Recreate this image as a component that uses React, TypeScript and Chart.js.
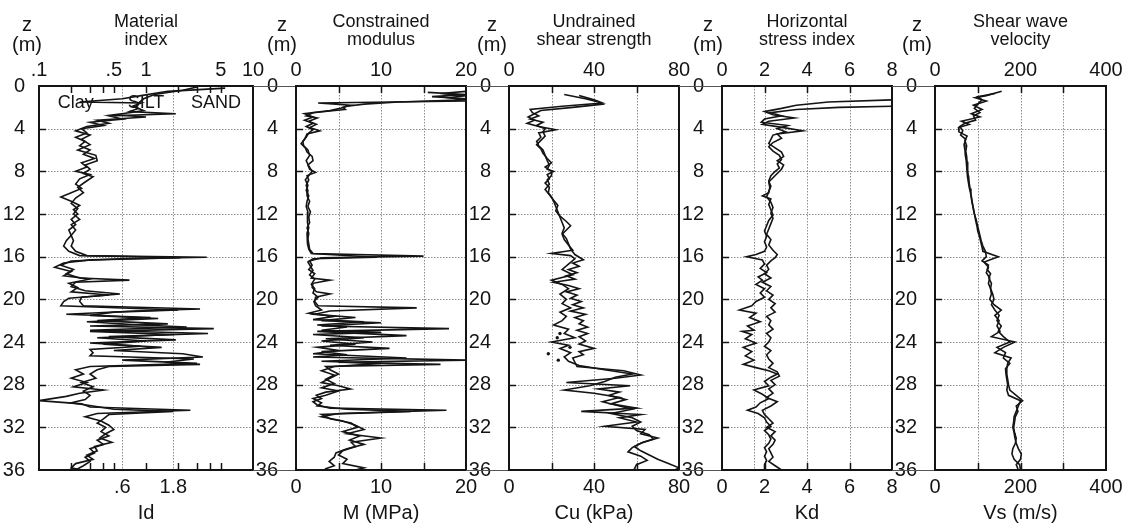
import { useEffect, useRef } from 'react';
import { Chart, registerables } from 'chart.js';
Chart.register(...registerables);

const FONT = '"Liberation Sans", Arial, Helvetica, sans-serif';
const INK = '#141414';

const DEPTH_TICKS = [0, 4, 8, 12, 16, 20, 24, 28, 32, 36];
const DEPTH_LABELS = ['0', '4', '8', '12', '16', '20', '24', '28', '32', '36'];

// ---------- Material index Id ----------
const ID_TOP_TICKS = [0.1, 0.5, 1, 5, 10];
const ID_TOP_LABELS = ['.1', '.5', '1', '5', '10'];
const ID_BOTTOM_TICKS = [0.6, 1.8];
const ID_BOTTOM_LABELS = ['.6', '1.8'];
const SOIL_LABELS = ['Clay', 'SILT', 'SAND'];
const SOIL_LABEL_ID = [0.22, 1.0, 4.5];
const SOIL_LABEL_DEPTH = 2.1;
const ID_A_DEPTH = [0.2, 0.5, 0.9, 1.2, 1.5, 1.6, 1.9, 2.1, 2.4, 2.6, 2.8, 3.1, 3.4, 3.7, 4.0, 4.4, 4.8, 5.2, 5.6, 6.0, 6.4, 6.8, 7.2, 7.6, 8.0, 8.3, 8.7, 9.2, 9.6, 10.0, 10.4, 10.8, 11.2, 11.6, 12.0, 12.5, 13.0, 13.5, 14.0, 14.5, 15.0, 15.5, 15.9, 16.05, 16.2, 16.4, 16.8, 17.2, 17.6, 18.0, 18.2, 18.4, 18.8, 19.2, 19.5, 19.8, 20.2, 20.6, 20.9, 21.1, 21.4, 21.7, 22.0, 22.3, 22.5, 22.75, 23.0, 23.3, 23.6, 23.9, 24.2, 24.5, 24.8, 25.1, 25.4, 25.7, 26.0, 26.3, 26.6, 27.0, 27.4, 27.8, 28.2, 28.5, 28.8, 29.1, 29.5, 29.8, 30.1, 30.4, 30.7, 31.0, 31.4, 31.8, 32.2, 32.6, 33.0, 33.4, 33.8, 34.2, 34.6, 35.0, 35.4, 35.8, 36.0];
const ID_A = [5.5, 1.6, 0.9, 0.6, 0.24, 0.9, 0.75, 0.85, 0.7, 1.9, 0.45, 0.6, 0.3, 0.4, 0.25, 0.28, 0.22, 0.27, 0.24, 0.3, 0.26, 0.33, 0.25, 0.28, 0.22, 0.3, 0.24, 0.22, 0.25, 0.2, 0.16, 0.2, 0.24, 0.21, 0.23, 0.2, 0.22, 0.19, 0.2, 0.18, 0.17, 0.19, 0.24, 3.7, 0.6, 0.2, 0.16, 0.21, 0.18, 0.24, 0.7, 0.22, 0.2, 0.27, 0.57, 0.25, 0.24, 0.26, 3.2, 0.8, 0.18, 1.1, 0.35, 1.6, 0.3, 4.3, 0.3, 1.8, 0.35, 1.0, 0.4, 1.4, 0.5, 2.2, 3.4, 0.6, 3.0, 0.3, 0.22, 0.26, 0.2, 0.28, 0.21, 0.4, 0.24, 0.18, 0.1, 0.25, 0.3, 2.6, 0.35, 0.27, 0.38, 0.45, 0.5, 0.42, 0.37, 0.48, 0.33, 0.35, 0.28, 0.32, 0.22, 0.2, 0.25];
const ID_B_DEPTH = [0.1, 0.4, 0.8, 1.2, 1.6, 2.0, 2.3, 2.5, 2.7, 2.9, 3.2, 3.5, 3.8, 4.2, 4.6, 5.0, 5.5, 6.0, 6.5, 7.0, 7.4, 7.8, 8.2, 8.5, 9.0, 9.5, 10.0, 10.5, 11.0, 11.5, 12.0, 12.5, 13.0, 13.5, 14.0, 14.5, 15.0, 15.5, 15.9, 16.1, 16.3, 16.6, 17.0, 17.4, 17.8, 18.1, 18.5, 18.9, 19.3, 19.6, 19.9, 20.2, 20.6, 21.0, 21.2, 21.5, 21.8, 22.1, 22.4, 22.6, 22.9, 23.2, 23.5, 23.8, 24.1, 24.4, 24.7, 25.0, 25.3, 25.6, 25.9, 26.1, 26.3, 26.6, 27.0, 27.4, 27.8, 28.2, 28.6, 29.0, 29.4, 29.7, 30.0, 30.3, 30.5, 30.8, 31.2, 31.6, 32.0, 32.4, 32.8, 33.2, 33.6, 34.0, 34.4, 34.8, 35.2, 35.6, 36.0];
const ID_B = [3.0, 2.2, 1.2, 0.95, 0.85, 0.8, 0.95, 0.7, 0.5, 1.0, 0.35, 0.45, 0.28, 0.22, 0.3, 0.25, 0.3, 0.23, 0.34, 0.35, 0.27, 0.3, 0.26, 0.32, 0.27, 0.23, 0.26, 0.22, 0.2, 0.23, 0.21, 0.24, 0.2, 0.22, 0.2, 0.21, 0.2, 0.22, 0.28, 2.1, 0.3, 0.17, 0.14, 0.2, 0.17, 0.3, 0.19, 0.23, 0.2, 0.45, 0.19, 0.17, 0.16, 2.0, 0.5, 0.3, 1.3, 0.28, 0.9, 2.4, 0.3, 3.8, 0.45, 1.9, 0.3, 0.9, 0.3, 0.32, 0.3, 2.8, 1.5, 3.2, 0.45, 0.35, 0.3, 0.34, 0.25, 0.32, 0.26, 0.3, 0.27, 0.2, 0.32, 0.5, 1.8, 0.45, 0.4, 0.35, 0.42, 0.38, 0.45, 0.35, 0.4, 0.3, 0.33, 0.27, 0.3, 0.26, 0.22];

// ---------- Constrained modulus M (MPa) ----------
const M_TICKS = [0, 10, 20];
const M_LABELS = ['0', '10', '20'];
const M_A_DEPTH = [0.6, 0.8, 1.0, 1.2, 1.4, 1.6, 1.8, 2.0, 2.2, 2.5, 2.8, 3.0, 3.3, 3.6, 3.9, 4.2, 4.5, 5.0, 5.4, 5.8, 6.2, 6.6, 7.0, 7.4, 7.8, 8.1, 8.4, 8.8, 9.3, 9.8, 10.3, 10.8, 11.3, 11.8, 12.3, 12.8, 13.3, 13.8, 14.3, 14.8, 15.3, 15.7, 15.95, 16.1, 16.4, 16.8, 17.2, 17.6, 18.0, 18.2, 18.5, 18.9, 19.3, 19.5, 19.8, 20.2, 20.6, 20.8, 21.1, 21.4, 21.7, 22.0, 22.2, 22.5, 22.75, 23.0, 23.4, 23.7, 24.0, 24.3, 24.6, 24.9, 25.2, 25.4, 25.7, 25.9, 26.1, 26.3, 26.6, 27.0, 27.4, 27.8, 28.1, 28.4, 28.7, 29.0, 29.3, 29.6, 29.9, 30.2, 30.4, 30.7, 31.0, 31.4, 31.8, 32.2, 32.6, 33.0, 33.4, 33.8, 34.2, 34.6, 35.0, 35.4, 35.8, 36.0];
const M_A = [15.5, 20, 16, 20, 20, 2.6, 6.4, 5.5, 5.8, 2.0, 1.2, 2.5, 1.5, 2.4, 1.6, 2.8, 1.3, 1.0, 0.6, 1.1, 1.3, 1.9, 2.0, 1.4, 1.6, 2.3, 1.3, 1.5, 1.2, 1.4, 1.3, 1.6, 1.4, 1.7, 1.5, 1.6, 1.3, 1.5, 1.4, 1.5, 1.6, 2.0, 15.0, 3.0, 1.6, 1.9, 1.5, 2.2, 1.8, 4.0, 2.0, 1.9, 2.4, 4.0, 2.3, 2.2, 2.6, 14.2, 4.0, 2.2, 7.0, 3.0, 10.0, 3.0, 18.0, 2.5, 13.0, 3.5, 9.0, 4.0, 11.0, 3.0, 6.0, 2.0, 20.0, 5.0, 17.0, 3.5, 4.0, 5.0, 4.0, 3.0, 5.0, 6.4, 3.5, 2.4, 3.0, 2.0, 2.5, 4.0, 17.7, 5.0, 3.0, 5.5, 7.0, 8.0, 6.0, 10.0, 6.5, 7.0, 5.5, 5.0, 6.0, 5.5, 8.0, 7.0];
const M_B_DEPTH = [0.5, 0.7, 0.9, 1.1, 1.3, 1.5, 1.7, 1.9, 2.1, 2.3, 2.6, 2.9, 3.2, 3.5, 3.8, 4.1, 4.4, 4.8, 5.2, 5.6, 6.0, 6.5, 7.0, 7.5, 8.0, 8.3, 8.8, 9.3, 9.8, 10.3, 10.8, 11.3, 11.8, 12.3, 12.8, 13.3, 13.8, 14.3, 14.8, 15.3, 15.7, 16.05, 16.2, 16.5, 16.9, 17.3, 17.7, 18.1, 18.6, 19.0, 19.4, 19.8, 20.2, 20.6, 21.0, 21.3, 21.6, 21.9, 22.1, 22.4, 22.6, 22.9, 23.1, 23.3, 23.6, 23.9, 24.2, 24.5, 24.8, 25.1, 25.5, 25.8, 26.0, 26.3, 26.7, 27.1, 27.5, 27.9, 28.3, 28.6, 29.0, 29.3, 29.7, 30.0, 30.3, 30.5, 30.8, 31.2, 31.6, 32.0, 32.4, 32.8, 33.2, 33.6, 34.0, 34.4, 34.8, 35.2, 35.6, 35.9];
const M_B = [20, 17, 20, 18, 20, 12, 8, 6.0, 5.2, 4.0, 1.0, 2.0, 1.0, 2.0, 1.2, 2.0, 1.5, 1.2, 0.8, 0.9, 1.4, 1.6, 1.2, 1.5, 1.9, 1.6, 1.1, 1.4, 1.2, 1.5, 1.3, 1.2, 1.4, 1.3, 1.4, 1.5, 1.3, 1.4, 1.3, 1.5, 1.8, 9.5, 2.0, 1.4, 1.7, 2.0, 1.6, 2.2, 1.8, 2.2, 2.0, 2.6, 2.1, 2.3, 3.0, 1.5, 4.5, 2.0, 8.0, 2.5, 6.0, 3.0, 10.0, 2.0, 8.0, 3.0, 7.0, 2.5, 5.0, 2.0, 13.0, 3.0, 10.0, 4.5, 3.0, 4.5, 3.5, 4.5, 3.0, 5.0, 3.5, 2.0, 3.0, 2.5, 6.0, 13.5, 3.0, 4.0, 6.5, 7.2, 5.5, 7.5, 6.3, 8.0, 6.0, 4.7, 4.5, 3.9, 4.5, 3.4];

// ---------- Undrained shear strength Cu (kPa) ----------
const CU_TICKS = [0, 40, 80];
const CU_LABELS = ['0', '40', '80'];
const CU_A_DEPTH = [0.8, 1.2, 1.5, 1.7, 2.0, 2.3, 2.6, 2.9, 3.2, 3.5, 3.8, 4.1, 4.4, 4.8, 5.2, 5.6, 6.0, 6.5, 7.0, 7.4, 7.8, 8.0, 8.3, 8.7, 9.1, 9.5, 10.0, 10.4, 10.8, 11.3, 11.8, 12.3, 12.8, 13.3, 13.8, 14.3, 14.8, 15.3, 15.8, 16.3, 16.6, 16.9, 17.2, 17.5, 17.8, 18.1, 18.4, 18.7, 19.0, 19.3, 19.6, 19.9, 20.2, 20.5, 20.8, 21.1, 21.4, 21.7, 22.0, 22.3, 22.6, 22.9, 23.2, 23.5, 23.9, 24.2, 24.6, 24.9, 25.2, 25.5, 25.9, 26.3, 26.7, 27.1, 27.4, 27.8, 28.1, 28.4, 28.7, 29.0, 29.4, 29.8, 30.2, 30.5, 30.8, 31.1, 31.5, 31.9, 32.2, 32.6, 33.0, 33.4, 33.8, 34.2, 34.6, 35.0, 35.4, 35.8, 36.0];
const CU_A = [26, 36, 42, 44, 30, 15, 12, 9, 12, 8.5, 14, 22, 14, 15, 13, 14, 16, 17, 18, 19, 18, 21, 18, 19, 17, 19, 18.5, 20, 21, 22, 23, 24, 25, 26, 25, 27, 28, 29, 31, 35, 30, 33, 28, 32, 27, 31, 21, 28, 33, 27, 32, 29, 34, 30, 35, 29, 36, 31, 35, 33, 37, 32, 37, 33, 36, 33, 40, 33, 35, 30, 31, 32, 54, 62, 50, 27, 57, 42, 52, 47, 55, 48, 60, 34, 62, 52, 60, 45, 64, 62, 70, 63, 59, 62, 66, 70, 75, 80, 78];
const CU_B_DEPTH = [0.9, 1.3, 1.6, 1.9, 2.2, 2.5, 2.8, 3.1, 3.4, 3.7, 4.0, 4.3, 4.7, 5.1, 5.5, 5.9, 6.3, 6.8, 7.2, 7.6, 8.0, 8.4, 8.8, 9.2, 9.7, 10.2, 10.7, 11.2, 11.7, 12.2, 12.7, 13.1, 13.5, 13.9, 14.4, 14.9, 15.4, 15.7, 15.9, 16.2, 16.7, 17.2, 17.7, 18.2, 18.6, 19.0, 19.5, 20.0, 20.4, 20.8, 21.2, 21.6, 22.0, 22.4, 22.8, 23.2, 23.6, 24.0, 24.3, 24.6, 25.0, 25.4, 25.8, 26.2, 26.6, 27.0, 27.3, 27.7, 28.1, 28.5, 28.8, 29.2, 29.6, 30.0, 30.3, 30.7, 31.1, 31.5, 31.9, 32.3, 32.7, 33.1, 33.5, 33.9, 34.3, 34.7, 35.1, 35.5, 35.9, 36.0];
const CU_B = [33, 40, 44, 25, 10, 11, 14, 10, 16, 13, 17, 16, 17, 15, 13, 15, 16, 18, 20, 17, 20, 20, 18, 19, 17, 19, 21, 23, 22, 24, 27, 29, 27, 25, 26, 28, 30, 20, 29, 31, 28, 25, 30, 20, 25, 28, 24, 27, 25, 29, 24, 27, 25, 21, 28, 26, 31, 20, 28, 24, 29, 26, 28, 33, 45, 58, 50, 45, 38, 26, 40, 52, 44, 52, 58, 48, 58, 62, 58, 60, 66, 68, 62, 58, 56, 62, 65, 60, 59, 60];
const CU_DOT_DEPTH = [23.2, 23.6, 24.5, 25.1, 25.7];
const CU_DOT = [24, 22.7, 28.7, 18.5, 23.2];

// ---------- Horizontal stress index Kd ----------
const KD_TICKS = [0, 2, 4, 6, 8];
const KD_LABELS = ['0', '2', '4', '6', '8'];
const KD_A_DEPTH = [1.3, 1.5, 1.8, 2.1, 2.4, 2.7, 3.0, 3.3, 3.6, 3.9, 4.2, 4.5, 4.9, 5.3, 5.7, 6.1, 6.5, 6.9, 7.3, 7.7, 8.0, 8.4, 8.9, 9.4, 9.9, 10.4, 10.9, 11.4, 11.9, 12.4, 12.9, 13.4, 13.9, 14.4, 14.9, 15.4, 15.8, 16.1, 16.4, 16.8, 17.2, 17.6, 18.0, 18.4, 18.8, 19.2, 19.6, 20.0, 20.4, 20.8, 21.2, 21.6, 22.0, 22.4, 22.8, 23.2, 23.6, 24.0, 24.4, 24.8, 25.2, 25.6, 26.0, 26.4, 26.8, 27.2, 27.6, 28.0, 28.4, 28.8, 29.2, 29.6, 30.0, 30.4, 30.8, 31.2, 31.6, 32.0, 32.4, 32.8, 33.2, 33.6, 34.0, 34.4, 34.8, 35.2, 35.6, 36.0];
const KD_A = [8, 5, 3.5, 2.8, 2.0, 2.4, 3.4, 2.2, 1.9, 2.9, 3.8, 2.6, 2.8, 2.4, 2.2, 2.4, 2.7, 2.8, 2.6, 2.7, 2.5, 2.3, 2.2, 2.3, 2.2, 2.1, 2.3, 2.4, 2.3, 2.4, 2.3, 2.2, 2.1, 2.3, 2.2, 2.4, 2.6, 2.5, 2.3, 2.1, 2.2, 2.0, 2.3, 1.9, 2.3, 2.1, 2.4, 2.2, 2.5, 2.3, 2.5, 2.1, 2.3, 2.2, 2.4, 2.1, 2.3, 2.2, 2.0, 2.3, 2.1, 2.2, 2.4, 2.2, 2.6, 2.7, 2.3, 2.5, 2.2, 2.4, 2.1, 2.6, 2.3, 1.9, 2.0, 2.2, 2.4, 2.1, 2.5, 2.3, 2.5, 2.4, 2.2, 2.3, 2.4, 2.2, 2.5, 2.8];
const KD_B_DEPTH = [1.9, 2.0, 2.2, 2.5, 2.8, 3.1, 3.4, 3.7, 4.0, 4.3, 4.6, 5.0, 5.4, 5.8, 6.2, 6.6, 7.0, 7.4, 7.8, 8.2, 8.6, 9.0, 9.5, 10.0, 10.3, 10.6, 11.1, 11.6, 12.1, 12.6, 13.1, 13.6, 14.1, 14.6, 15.1, 15.5, 15.8, 16.0, 16.3, 16.7, 17.1, 17.5, 17.9, 18.2, 18.6, 19.0, 19.4, 19.8, 20.2, 20.6, 21.0, 21.3, 21.7, 22.1, 22.5, 22.9, 23.0, 23.3, 23.7, 24.1, 24.5, 24.9, 25.3, 25.7, 26.1, 26.4, 26.7, 27.0, 27.3, 27.7, 28.1, 28.5, 28.9, 29.3, 29.7, 30.1, 30.4, 30.7, 31.1, 31.5, 31.9, 32.3, 32.7, 33.1, 33.5, 33.9, 34.3, 34.7, 35.1, 35.5, 35.9];
const KD_B = [8, 5.5, 3.5, 2.3, 2.8, 2.0, 1.85, 3.1, 2.6, 3.0, 2.4, 2.3, 2.2, 2.5, 2.8, 2.9, 2.6, 2.9, 2.8, 2.6, 2.4, 2.2, 2.25, 2.2, 1.9, 2.3, 2.2, 2.3, 2.4, 2.2, 2.1, 2.0, 2.1, 2.0, 2.1, 2.0, 1.6, 1.16, 1.9, 2.0, 1.8, 2.1, 1.7, 1.9, 1.6, 2.0, 1.8, 2.0, 1.6, 1.4, 0.82, 1.6, 1.3, 1.8, 1.2, 1.5, 0.95, 1.4, 1.1, 1.6, 1.0, 1.4, 1.1, 1.5, 1.0, 1.6, 2.2, 2.6, 2.3, 2.0, 2.2, 1.5, 1.9, 2.2, 1.8, 1.6, 1.2, 1.7, 2.0, 2.1, 2.3, 2.0, 2.2, 2.3, 2.2, 2.0, 2.1, 2.0, 2.1, 2.0, 2.0];

// ---------- Shear wave velocity Vs (m/s) ----------
const VS_TICKS = [0, 200, 400];
const VS_LABELS = ['0', '200', '400'];
const VS_A_DEPTH = [0.5, 0.9, 1.1, 1.4, 1.8, 2.2, 2.6, 2.9, 3.3, 3.6, 3.9, 4.3, 4.7, 5.1, 5.6, 6.1, 6.6, 7.1, 7.6, 8.1, 8.6, 9.1, 9.6, 10.1, 10.6, 11.1, 11.6, 12.1, 12.6, 13.1, 13.6, 14.1, 14.6, 15.1, 15.5, 16.0, 16.5, 17.0, 17.5, 18.0, 18.5, 19.0, 19.5, 20.0, 20.5, 21.0, 21.5, 22.0, 22.5, 23.0, 23.5, 24.0, 24.5, 25.0, 25.5, 26.0, 26.5, 27.0, 27.5, 28.0, 28.5, 29.0, 29.5, 30.0, 30.5, 31.0, 31.5, 32.0, 32.5, 33.0, 33.5, 34.0, 34.5, 35.0, 35.5, 36.0];
const VS_A = [156, 120, 94, 120, 90, 110, 85, 105, 62, 80, 55, 56, 75, 70, 74, 72, 74, 75, 76, 77, 79, 80, 82, 84, 86, 88, 90, 93, 95, 98, 100, 104, 107, 110, 112, 148, 115, 125, 120, 128, 125, 130, 132, 128, 138, 155, 140, 150, 145, 152, 132, 187, 160, 140, 178, 170, 168, 168, 170, 172, 175, 190, 205, 190, 194, 188, 186, 184, 186, 190, 188, 182, 180, 185, 198, 200];
const VS_B_DEPTH = [0.7, 1.0, 1.3, 1.7, 2.1, 2.5, 2.8, 3.2, 3.5, 3.8, 4.2, 4.6, 5.0, 5.5, 6.0, 6.5, 7.0, 7.5, 8.0, 8.5, 9.0, 9.5, 10.0, 10.5, 11.0, 11.5, 12.0, 12.5, 13.0, 13.5, 14.0, 14.5, 15.0, 15.5, 16.0, 16.4, 16.8, 17.2, 17.6, 18.0, 18.5, 19.0, 19.5, 20.0, 20.5, 21.0, 21.5, 22.0, 22.5, 23.0, 23.5, 24.0, 24.5, 25.0, 25.5, 26.0, 26.5, 27.0, 27.5, 28.0, 28.5, 29.0, 29.5, 30.0, 30.5, 31.0, 31.5, 32.0, 32.5, 33.0, 33.5, 34.0, 34.5, 35.0, 35.5, 36.0];
const VS_B = [140, 100, 110, 100, 92, 105, 90, 95, 70, 58, 65, 60, 72, 68, 70, 71, 73, 74, 75, 76, 78, 80, 83, 85, 87, 90, 92, 96, 99, 102, 105, 108, 112, 118, 120, 110, 125, 122, 130, 126, 132, 130, 135, 138, 132, 140, 150, 145, 155, 148, 160, 175, 145, 165, 160, 175, 165, 166, 168, 170, 168, 172, 200, 195, 190, 185, 184, 182, 185, 187, 190, 195, 202, 200, 190, 195];

type Series = { depth: number[]; values: number[]; dots?: boolean };
type PanelCfg = {
  title: string[];
  xTitle: string;
  log: boolean;
  min: number;
  max: number;
  left: number;
  right: number;
  topTicks: number[];
  topLabels: string[];
  bottomTicks: number[];
  bottomLabels: string[];
  grid: number[];
  marks: number[];
  series: Series[];
  yPad: number;
  zOff: number;
  extend: boolean;
  inner?: { labels: string[]; xs: number[]; depth: number };
};

const PANELS: PanelCfg[] = [
  {
    title: ['Material', 'index'], xTitle: 'Id', log: true, min: 0.1, max: 10, left: 39, right: 253,
    topTicks: ID_TOP_TICKS, topLabels: ID_TOP_LABELS, bottomTicks: ID_BOTTOM_TICKS, bottomLabels: ID_BOTTOM_LABELS,
    grid: [0.6, 1.8], marks: [0.2, 0.3, 0.4, 0.5, 1, 2, 3, 4, 5],
    series: [{ depth: ID_A_DEPTH, values: ID_A }, { depth: ID_B_DEPTH, values: ID_B }],
    yPad: 6, zOff: 12, extend: false,
    inner: { labels: SOIL_LABELS, xs: SOIL_LABEL_ID, depth: SOIL_LABEL_DEPTH },
  },
  {
    title: ['Constrained', 'modulus'], xTitle: 'M (MPa)', log: false, min: 0, max: 20, left: 296, right: 466,
    topTicks: M_TICKS, topLabels: M_LABELS, bottomTicks: M_TICKS, bottomLabels: M_LABELS,
    grid: [5, 10, 15], marks: [5, 10, 15],
    series: [{ depth: M_A_DEPTH, values: M_A }, { depth: M_B_DEPTH, values: M_B }],
    yPad: 10, zOff: 14, extend: true,
  },
  {
    title: ['Undrained', 'shear strength'], xTitle: 'Cu (kPa)', log: false, min: 0, max: 80, left: 509, right: 679,
    topTicks: CU_TICKS, topLabels: CU_LABELS, bottomTicks: CU_TICKS, bottomLabels: CU_LABELS,
    grid: [20, 40, 60], marks: [20, 40, 60],
    series: [{ depth: CU_A_DEPTH, values: CU_A }, { depth: CU_B_DEPTH, values: CU_B }, { depth: CU_DOT_DEPTH, values: CU_DOT, dots: true }],
    yPad: 10, zOff: 17, extend: true,
  },
  {
    title: ['Horizontal', 'stress index'], xTitle: 'Kd', log: false, min: 0, max: 8, left: 722, right: 892,
    topTicks: KD_TICKS, topLabels: KD_LABELS, bottomTicks: KD_TICKS, bottomLabels: KD_LABELS,
    grid: [1.5, 2, 4, 6], marks: [2, 4, 6],
    series: [{ depth: KD_A_DEPTH, values: KD_A }, { depth: KD_B_DEPTH, values: KD_B }],
    yPad: 10, zOff: 14, extend: true,
  },
  {
    title: ['Shear wave', 'velocity'], xTitle: 'Vs (m/s)', log: false, min: 0, max: 400, left: 935, right: 1106,
    topTicks: VS_TICKS, topLabels: VS_LABELS, bottomTicks: VS_TICKS, bottomLabels: VS_LABELS,
    grid: [100, 200, 300], marks: [100, 200, 300],
    series: [{ depth: VS_A_DEPTH, values: VS_A }, { depth: VS_B_DEPTH, values: VS_B }],
    yPad: 10, zOff: 18, extend: true,
  },
];

const Y_AXIS_W = 43;
const RIGHT_PAD = 22;
const H = 523;
const TOP_H = 86;
const BOTTOM_H = 53;

function decorPlugin(cfg: PanelCfg) {
  return {
    id: 'decor',
    beforeDatasetsDraw(chart: any) {
      const { ctx, chartArea: a, scales } = chart;
      ctx.save();
      ctx.strokeStyle = '#8c8c8c';
      ctx.lineWidth = 1;
      ctx.setLineDash([1.5, 1.5]);
      DEPTH_TICKS.slice(1, -1).forEach((d) => {
        const y = Math.round(scales.y.getPixelForValue(d)) + 0.5;
        ctx.beginPath();
        ctx.moveTo(a.left, y);
        ctx.lineTo(a.right, y);
        ctx.stroke();
      });
      cfg.grid.forEach((v) => {
        const x = Math.round(scales.x.getPixelForValue(v)) + 0.5;
        ctx.beginPath();
        ctx.moveTo(x, a.top);
        ctx.lineTo(x, a.bottom);
        ctx.stroke();
      });
      ctx.restore();
      if (cfg.inner) {
        const inner = cfg.inner;
        ctx.save();
        ctx.fillStyle = INK;
        ctx.font = `18px ${FONT}`;
        ctx.textAlign = 'center';
        ctx.textBaseline = 'alphabetic';
        const y = scales.y.getPixelForValue(inner.depth);
        inner.labels.forEach((t, i) => {
          ctx.fillText(t, scales.x.getPixelForValue(inner.xs[i]), y);
        });
        ctx.restore();
      }
    },
    afterDraw(chart: any) {
      const { ctx, chartArea: a, scales } = chart;
      ctx.save();
      ctx.strokeStyle = INK;
      ctx.lineWidth = 1.5;
      const tl = 7;
      DEPTH_TICKS.slice(1, -1).forEach((d) => {
        const y = Math.round(scales.y.getPixelForValue(d)) + 0.5;
        ctx.beginPath();
        ctx.moveTo(a.left, y);
        ctx.lineTo(a.left + tl, y);
        ctx.stroke();
      });
      cfg.marks.forEach((v) => {
        const x = Math.round(scales.x.getPixelForValue(v)) + 0.5;
        ctx.beginPath();
        ctx.moveTo(x, a.top);
        ctx.lineTo(x, a.top + tl);
        ctx.moveTo(x, a.bottom);
        ctx.lineTo(x, a.bottom - tl);
        ctx.stroke();
      });
      if (cfg.extend) {
        ctx.strokeStyle = '#555';
        ctx.lineWidth = 1;
        ctx.beginPath();
        ctx.moveTo(0, a.top + 0.5);
        ctx.lineTo(a.left, a.top + 0.5);
        ctx.moveTo(0, a.bottom + 0.5);
        ctx.lineTo(a.left, a.bottom + 0.5);
        ctx.stroke();
      }
      ctx.strokeStyle = INK;
      ctx.lineWidth = 2;
      ctx.strokeRect(a.left, a.top, a.right - a.left, a.bottom - a.top);
      ctx.fillStyle = INK;
      ctx.textAlign = 'center';
      ctx.textBaseline = 'alphabetic';
      const cx = (a.left + a.right) / 2;
      ctx.font = `18px ${FONT}`;
      ctx.fillText(cfg.title[0], cx, 27);
      ctx.fillText(cfg.title[1], cx, 45);
      ctx.font = `20px ${FONT}`;
      ctx.fillText('z', a.left - cfg.zOff, 31);
      ctx.fillText('(m)', a.left - cfg.zOff, 51);
      ctx.fillText(cfg.xTitle, cx, 519);
      ctx.restore();
    },
  };
}

function Panel({ cfg }: { cfg: PanelCfg }) {
  const ref = useRef<HTMLCanvasElement>(null);
  const width = Y_AXIS_W + (cfg.right - cfg.left) + RIGHT_PAD;
  useEffect(() => {
    const canvas = ref.current;
    if (!canvas) return;
    const datasets: any[] = cfg.series.map((s) => ({
      data: s.depth.map((d, i) => ({ x: s.values[i], y: d })),
      showLine: !s.dots,
      pointRadius: s.dots ? 1.7 : 0,
      pointBackgroundColor: INK,
      pointBorderWidth: 0,
      borderColor: INK,
      borderWidth: 1.6,
      tension: 0,
      fill: false,
    }));
    const tickFont = { family: FONT, size: 20 };
    const xType = cfg.log ? 'logarithmic' : 'linear';
    const chart = new Chart(canvas, {
      type: 'scatter',
      data: { datasets },
      options: {
        animation: false,
        responsive: false,
        devicePixelRatio: 1,
        layout: { padding: { left: 0, right: RIGHT_PAD, top: 0, bottom: 0 } },
        plugins: { legend: { display: false }, tooltip: { enabled: false }, title: { display: false } },
        scales: {
          x: {
            type: xType as any,
            position: 'bottom',
            min: cfg.min,
            max: cfg.max,
            afterFit: (s: any) => { s.height = BOTTOM_H; },
            afterBuildTicks: (s: any) => { s.ticks = cfg.bottomTicks.map((v) => ({ value: v })); },
            ticks: {
              autoSkip: false, maxRotation: 0, minRotation: 0, padding: -3, color: INK, font: tickFont,
              callback: (_v: any, i: number) => cfg.bottomLabels[i],
            },
            grid: { display: false },
            border: { display: false },
          },
          x2: {
            type: xType as any,
            axis: 'x',
            position: 'top',
            min: cfg.min,
            max: cfg.max,
            afterFit: (s: any) => { s.height = TOP_H; },
            afterBuildTicks: (s: any) => { s.ticks = cfg.topTicks.map((v) => ({ value: v })); },
            ticks: {
              autoSkip: false, maxRotation: 0, minRotation: 0, padding: -4, color: INK, font: tickFont,
              callback: (_v: any, i: number) => cfg.topLabels[i],
            },
            grid: { display: false },
            border: { display: false },
          },
          y: {
            type: 'linear',
            position: 'left',
            reverse: true,
            min: 0,
            max: 36,
            afterFit: (s: any) => { s.width = Y_AXIS_W; },
            afterBuildTicks: (s: any) => { s.ticks = DEPTH_TICKS.map((v) => ({ value: v })); },
            ticks: {
              autoSkip: false, padding: cfg.yPad, color: INK, font: tickFont,
              callback: (_v: any, i: number) => DEPTH_LABELS[i],
            },
            grid: { display: false },
            border: { display: false },
          },
        },
      } as any,
      plugins: [decorPlugin(cfg)],
    });
    return () => chart.destroy();
  }, [cfg]);
  return (
    <canvas
      ref={ref}
      width={width}
      height={H}
      style={{ position: 'absolute', left: cfg.left - Y_AXIS_W, top: 0, width, height: H }}
    />
  );
}

export default function App() {
  return (
    <div style={{ position: 'absolute', left: 0, top: 0, width: 1130, height: 523, overflow: 'hidden', background: '#fff' }}>
      {PANELS.map((p) => (
        <Panel key={p.xTitle} cfg={p} />
      ))}
    </div>
  );
}
